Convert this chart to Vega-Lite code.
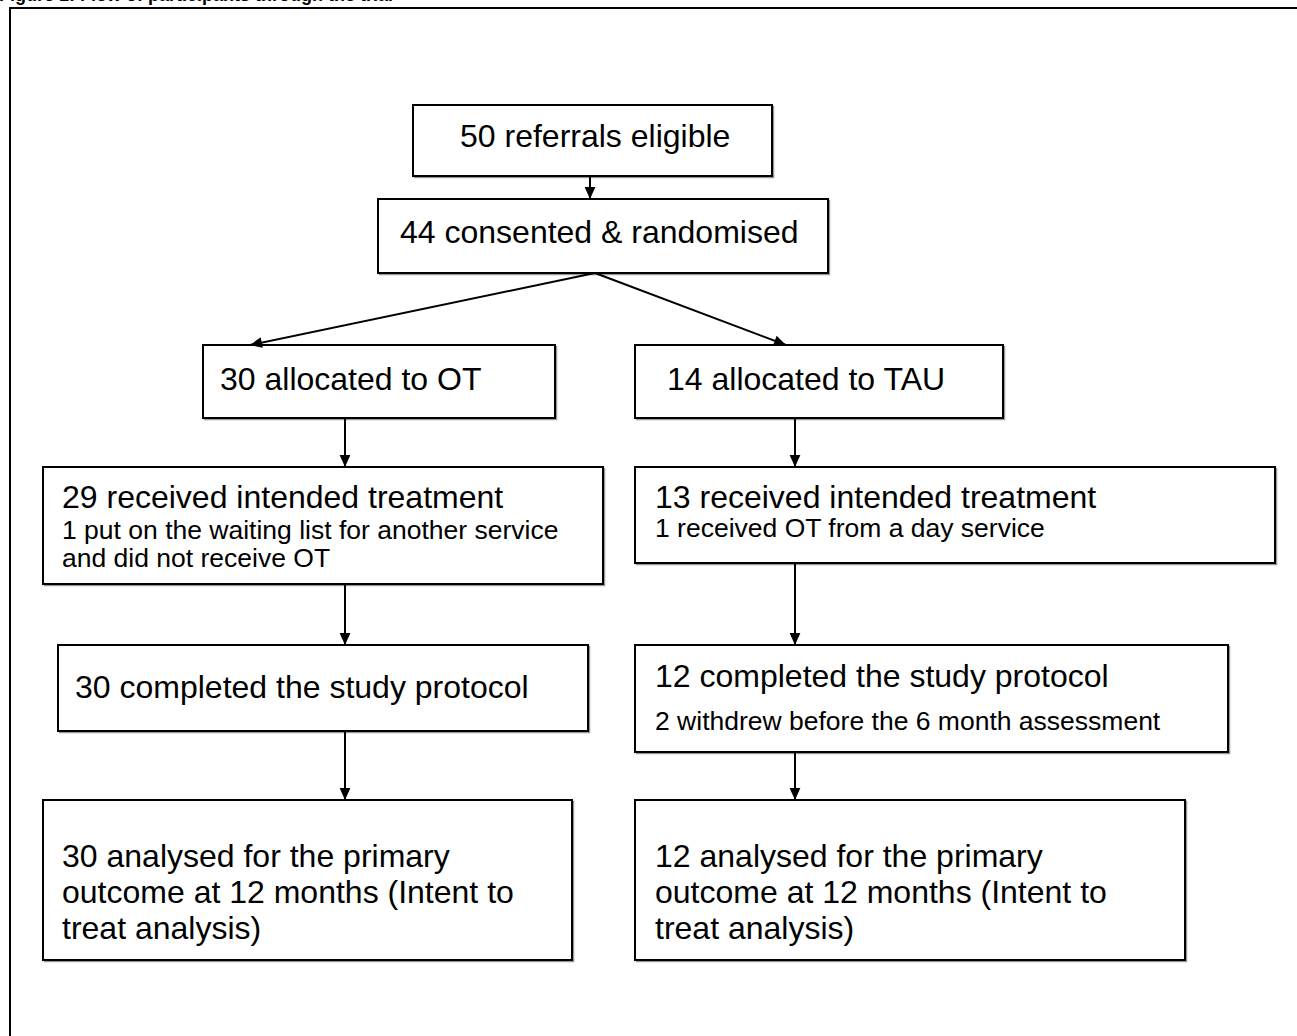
{
  "$schema": "https://vega.github.io/schema/vega-lite/v6.json",
  "width": 1297,
  "height": 1036,
  "autosize": {"type": "none"},
  "padding": 0,
  "background": "white",
  "config": {"view": {"stroke": null}, "font": "Liberation Sans"},
  "datasets": {
    "frame": [{"x": 10, "x2": 1330, "y": 8, "y2": 1070}],
    "boxes": [
      {"box": "referrals", "x": 413, "x2": 772, "y": 105, "y2": 176},
      {"box": "randomised", "x": 378, "x2": 828, "y": 199, "y2": 273},
      {"box": "OT allocated", "x": 203, "x2": 555, "y": 345, "y2": 418},
      {"box": "TAU allocated", "x": 635, "x2": 1003, "y": 345, "y2": 418},
      {"box": "OT treatment", "x": 43, "x2": 603, "y": 467, "y2": 584},
      {"box": "TAU treatment", "x": 635, "x2": 1275, "y": 467, "y2": 563},
      {"box": "OT protocol", "x": 58, "x2": 588, "y": 645, "y2": 731},
      {"box": "TAU protocol", "x": 635, "x2": 1228, "y": 645, "y2": 752},
      {"box": "OT analysed", "x": 43, "x2": 572, "y": 800, "y2": 960},
      {"box": "TAU analysed", "x": 635, "x2": 1185, "y": 800, "y2": 960}
    ],
    "arrows": [
      {"x": 590, "y": 176, "x2": 590, "y2": 199},
      {"x": 595, "y": 273, "x2": 250, "y2": 345},
      {"x": 595, "y": 273, "x2": 786, "y2": 345},
      {"x": 345, "y": 418, "x2": 345, "y2": 467},
      {"x": 795, "y": 418, "x2": 795, "y2": 467},
      {"x": 345, "y": 584, "x2": 345, "y2": 645},
      {"x": 795, "y": 563, "x2": 795, "y2": 645},
      {"x": 345, "y": 731, "x2": 345, "y2": 800},
      {"x": 795, "y": 752, "x2": 795, "y2": 800}
    ],
    "lines": [
      {"text": "50 referrals eligible", "kind": "main", "x": 460, "y": 137},
      {"text": "44 consented & randomised", "kind": "main", "x": 400, "y": 233},
      {"text": "30 allocated to OT", "kind": "main", "x": 220, "y": 380},
      {"text": "14 allocated to TAU", "kind": "main", "x": 667, "y": 380},
      {"text": "29 received intended treatment", "kind": "main", "x": 62, "y": 498},
      {"text": "1 put on the waiting list for another service", "kind": "note", "x": 62, "y": 531},
      {"text": "and did not receive OT", "kind": "note", "x": 62, "y": 559},
      {"text": "13 received intended treatment", "kind": "main", "x": 655, "y": 498},
      {"text": "1 received OT from a day service", "kind": "note", "x": 655, "y": 529},
      {"text": "30 completed the study protocol", "kind": "main", "x": 75, "y": 688},
      {"text": "12 completed the study protocol", "kind": "main", "x": 655, "y": 677},
      {"text": "2 withdrew before the 6 month assessment", "kind": "note", "x": 655, "y": 722},
      {"text": "30 analysed for the primary", "kind": "main", "x": 62, "y": 857},
      {"text": "outcome at 12 months (Intent to", "kind": "main", "x": 62, "y": 893},
      {"text": "treat analysis)", "kind": "main", "x": 62, "y": 929},
      {"text": "12 analysed for the primary", "kind": "main", "x": 655, "y": 857},
      {"text": "outcome at 12 months (Intent to", "kind": "main", "x": 655, "y": 893},
      {"text": "treat analysis)", "kind": "main", "x": 655, "y": 929}
    ],
    "title": [{"text": "Figure 1: Flow of participants through the trial", "x": -1, "y": 0.5}]
  },
  "encoding": {
    "x": {"field": "x", "type": "quantitative", "axis": null, "scale": {"domain": [0, 1297], "nice": false, "zero": false}},
    "y": {"field": "y", "type": "quantitative", "axis": null, "scale": {"domain": [0, 1036], "nice": false, "zero": false, "reverse": true}}
  },
  "layer": [
    {
      "data": {"name": "frame"},
      "mark": {"type": "rect", "fill": null, "fillOpacity": 0, "stroke": "black", "strokeWidth": 2, "clip": true},
      "encoding": {"x2": {"field": "x2"}, "y2": {"field": "y2"}}
    },
    {
      "data": {"name": "boxes"},
      "mark": {"type": "rect", "fill": "white", "stroke": "#9a9a9a", "strokeWidth": 1.5, "xOffset": 1.5, "x2Offset": 1.5, "yOffset": 1.5, "y2Offset": 1.5},
      "encoding": {"x2": {"field": "x2"}, "y2": {"field": "y2"}}
    },
    {
      "data": {"name": "boxes"},
      "mark": {"type": "rect", "fill": "white", "stroke": "black", "strokeWidth": 2},
      "encoding": {"x2": {"field": "x2"}, "y2": {"field": "y2"}}
    },
    {
      "data": {"name": "arrows"},
      "mark": {"type": "rule", "color": "black", "strokeWidth": 2},
      "encoding": {"x2": {"field": "x2"}, "y2": {"field": "y2"}}
    },
    {
      "data": {"name": "arrows"},
      "transform": [{"calculate": "atan2(datum.y2 - datum.y, datum.x2 - datum.x) * 180 / PI - 90", "as": "ang"}],
      "mark": {"type": "point", "filled": true, "color": "black", "opacity": 1, "shape": "M0,0L-0.45,-1L0.45,-1Z", "size": 576},
      "encoding": {
        "x": {"field": "x2", "type": "quantitative"},
        "y": {"field": "y2", "type": "quantitative"},
        "angle": {"field": "ang", "type": "quantitative", "scale": null}
      }
    },
    {
      "data": {"name": "lines"},
      "mark": {"type": "text", "align": "left", "baseline": "middle", "font": "Liberation Sans", "color": "black"},
      "encoding": {
        "text": {"field": "text"},
        "size": {"field": "kind", "type": "ordinal", "scale": {"domain": ["main", "note"], "range": [32, 26.5]}, "legend": null}
      }
    },
    {
      "data": {"name": "title"},
      "mark": {"type": "text", "align": "left", "baseline": "alphabetic", "font": "Liberation Sans", "fontWeight": "bold", "fontSize": 18, "color": "black"},
      "encoding": {"text": {"field": "text"}}
    }
  ]
}
